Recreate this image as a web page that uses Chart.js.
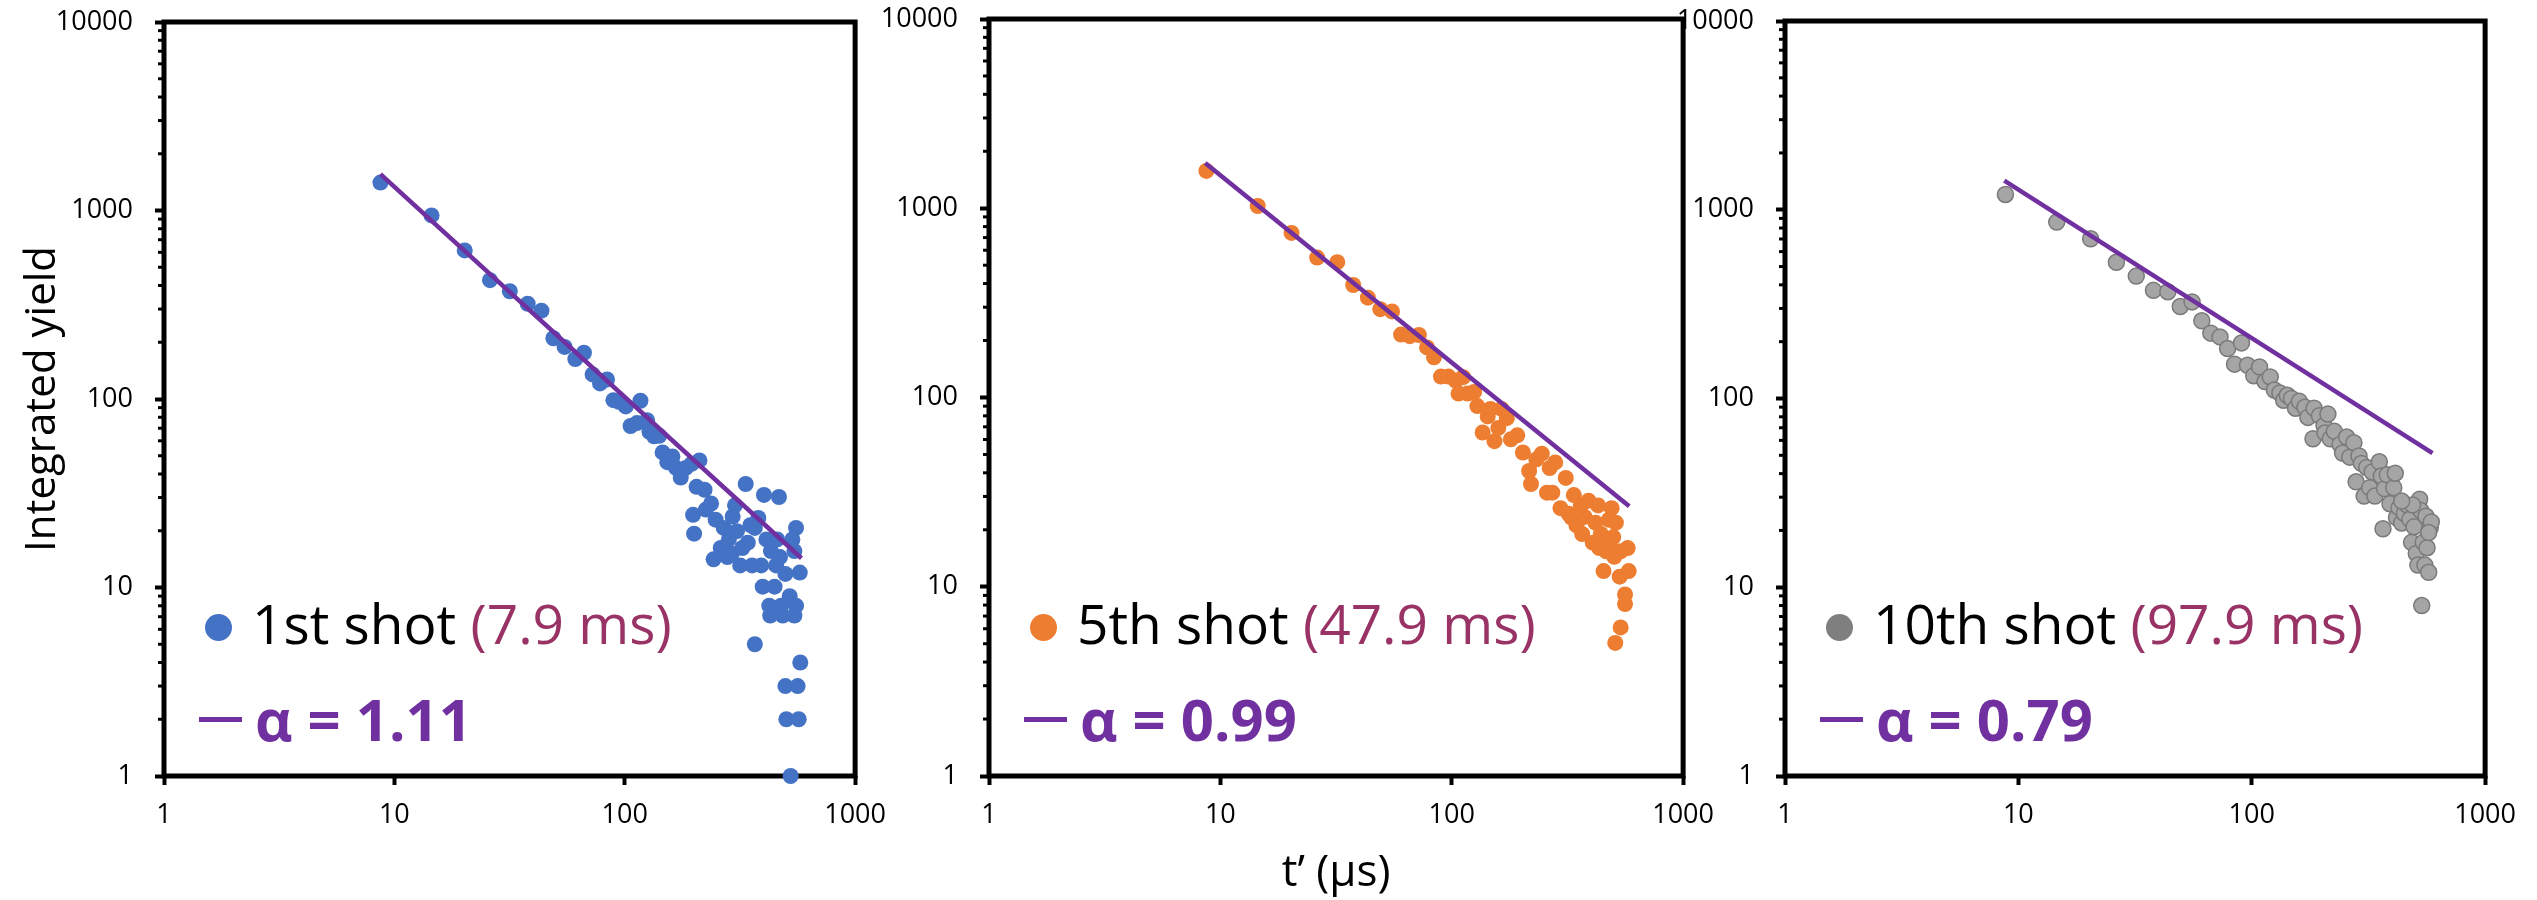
<!DOCTYPE html>
<html>
<head>
<meta charset="utf-8">
<script src="https://cdn.jsdelivr.net/npm/chart.js@4.4.1/dist/chart.umd.min.js"></script>
<style>
  body { margin: 0; background: #fff; width: 2537px; height: 900px; position: relative; overflow: hidden; font-family: "Open Sans", sans-serif; }
  .panel { position: absolute; top: 0; height: 900px; }
  .leg { position: absolute; white-space: nowrap; font-size: 55px; line-height: 55px; color: #000; }
  .alpha { font-weight: 700; color: #7030A0; font-size: 58px; line-height: 58px; }
  .dot { position: absolute; width: 27px; height: 27px; border-radius: 50%; }
  .bar { position: absolute; width: 43px; height: 5px; background: #7030A0; }
</style>
</head>
<body>
<script>
// axes
const xTicks = [1, 10, 100, 1000];
const yTicks = [1, 10, 100, 1000, 10000];
const minorSteps = [2, 3, 4, 5, 6, 7, 8, 9];

// legend text
const shotLabels = ['1st shot', '5th shot', '10th shot'];
const delayLabels = ['(7.9 ms)', '(47.9 ms)', '(97.9 ms)'];
const alphaLabels = ['1.11', '0.99', '0.79'];

// 1st shot
const shot1T = [8.7, 14.5, 20.2, 26.0, 31.7, 37.9, 43.5, 49.0, 54.8, 61.0,
  66.5, 72.5, 78.1, 83.8, 89.3, 94.3, 101, 117, 106, 113,
  125, 128, 134, 141, 146, 153, 161, 167, 175, 184,
  195, 211, 205, 222, 198, 225, 237, 248, 200, 243,
  261, 269, 283, 294, 301, 291, 324, 317, 335, 342,
  357, 367, 380, 391, 402, 397, 412, 424, 428, 447,
  454, 459, 472, 467, 477, 485, 367, 498, 503, 525,
  520, 534, 545, 554, 545, 563, 569, 578, 575, 498,
  554, 431, 351, 307, 279];
const shot1Y = [1406, 942, 614, 427, 373, 320, 294, 210, 189, 163,
  176, 135, 121, 127, 98.6, 96.6, 91.3, 97.9, 71.9, 74.5,
  77.2, 67.0, 63.4, 63.8, 52.1, 46.2, 49.6, 43.1, 38.3, 43.1,
  45.3, 47.2, 34.2, 33.0, 24.3, 25.9, 27.9, 22.9, 19.3, 14.1,
  16.2, 20.7, 18.0, 23.8, 27.3, 15.1, 16.2, 13.1, 35.4, 17.3,
  13.1, 20.7, 23.4, 13.1, 31.0, 10.1, 18.0, 8.0, 7.1, 10.1,
  13.1, 18.0, 14.5, 30.2, 8.0, 7.1, 5.0, 3.0, 2.0, 1.0,
  9.0, 18.0, 15.6, 8.0, 7.1, 3.0, 2.0, 4.0, 12.0, 11.8,
  20.7, 15.6, 21.4, 19.9, 14.5];
const fit1T = [8.7, 585];
const fit1Y = [1560, 14.3];

// 5th shot
const shot2T = [8.7, 14.5, 20.3, 26.2, 32.0, 37.5, 43.4, 49.1, 55.2, 60.4,
  65.9, 72.1, 78.2, 83.8, 89.8, 96.8, 104, 112, 107, 117,
  125, 129, 136, 143, 147, 153, 159, 164, 173, 180,
  192, 203, 216, 220, 232, 245, 258, 265, 280, 272,
  295, 311, 320, 337, 346, 361, 375, 390, 407, 418,
  429, 441, 453, 465, 478, 491, 499, 504, 509, 532,
  537, 561, 561, 576, 582, 512, 328, 366, 434, 478, 537];
const shot2Y = [1574, 1028, 741, 549, 519, 393, 337, 293, 285, 215,
  211, 214, 184, 163, 129, 129, 123, 128, 105, 105,
  107, 90.1, 65.3, 79.4, 87.0, 58.8, 69.1, 87.0, 77.8, 60.1,
  63.1, 51.2, 40.9, 34.9, 47.1, 50.5, 31.4, 42.4, 45.4, 31.4,
  26.0, 37.6, 24.3, 30.5, 21.1, 26.9, 23.4, 28.5, 17.1, 21.8,
  26.9, 19.0, 12.1, 15.4, 22.6, 26.0, 18.3, 14.4, 5.05, 11.3,
  6.1, 9.1, 8.1, 16.0, 12.1, 21.8, 23.3, 19.0, 16.0, 16.6, 15.4];
const fit2T = [8.6, 585];
const fit2Y = [1735, 26.6];

// 10th shot
const shot3T = [8.8, 14.6, 20.4, 26.3, 32.0, 37.9, 43.7, 49.4, 55.5, 61.1,
  66.8, 73.1, 78.8, 90.4, 84.4, 95.9, 102, 108, 114, 120,
  125, 132, 137, 142, 148, 154, 160, 169, 174, 183,
  185, 195, 204, 212, 206, 217, 226, 239, 245, 255,
  263, 274, 280, 288, 295, 303, 311, 320, 328, 337,
  352, 359, 365, 371, 381, 391, 406, 412, 417, 428,
  439, 451, 463, 476, 484, 496, 507, 515, 524, 530,
  535, 543, 552, 558, 564, 573, 582, 588, 573, 489, 439];
const shot3Y = [1205, 860, 702, 527, 445, 374, 368, 307, 325, 258,
  222, 212, 184, 197, 152, 150, 132, 147, 123, 130,
  111, 107, 97.9, 104, 100, 88.8, 96.6, 90.0, 79.4, 61.2,
  88.8, 81.1, 71.9, 82.7, 65.7, 61.2, 67.0, 57.1, 51.4, 62.5,
  48.9, 58.3, 36.2, 49.6, 45.3, 30.4, 43.1, 33.7, 40.8, 30.4,
  46.2, 38.8, 20.4, 33.3, 39.4, 27.7, 33.7, 40.2, 23.4, 26.4,
  21.9, 24.6, 27.3, 22.9, 17.3, 20.9, 15.1, 13.1, 29.3, 25.5,
  8.0, 17.3, 13.1, 23.8, 16.2, 12.0, 20.7, 22.2, 19.5, 27.3, 28.6];
const fit3T = [8.7, 595];
const fit3Y = [1425, 51.4];

// box + short minor ticks on the y axis
const framePlugin = {
  id: 'frame',
  beforeDatasetsDraw(chart) {
    const { ctx, chartArea: a } = chart;
    const ys = chart.scales.y;
    ctx.save();
    ctx.strokeStyle = '#000';
    ctx.lineWidth = 3;
    yTicks.slice(0, -1).forEach(d => minorSteps.forEach(m => {
      const py = ys.getPixelForValue(d * m);
      ctx.beginPath();
      ctx.moveTo(a.left - 6, py);
      ctx.lineTo(a.left, py);
      ctx.stroke();
    }));
    ctx.lineWidth = 5;
    ctx.strokeRect(a.left, a.top, a.right - a.left, a.bottom - a.top);
    ctx.restore();
  }
};

const tickFont = { family: 'Open Sans', size: 27 };

function pts(t, y) { return t.map((v, k) => ({ x: v, y: y[k] })); }

function makePanel(k, t, y, fitT, fitY, look) {
  const wrap = document.createElement('div');
  wrap.className = 'panel';
  wrap.style.left = look.left + 'px';
  wrap.style.width = (look.yw + look.plotW + 40) + 'px';
  const cv = document.createElement('canvas');
  wrap.appendChild(cv);
  document.body.appendChild(wrap);

  new Chart(cv, {
    type: 'scatter',
    data: {
      datasets: [
        { type: 'line', data: pts(fitT, fitY), borderColor: '#7030A0', borderWidth: 4.5,
          pointRadius: 0, fill: false, clip: false },
        { data: pts(t, y), pointRadius: 8, pointHoverRadius: 8,
          backgroundColor: look.fill, borderColor: look.edge, borderWidth: look.edgeW, clip: false }
      ]
    },
    options: {
      responsive: true,
      maintainAspectRatio: false,
      animation: false,
      events: [],
      layout: { padding: { left: 0, right: 40, top: look.top, bottom: 0 } },
      plugins: { legend: { display: false }, tooltip: { enabled: false } },
      scales: {
        x: {
          type: 'logarithmic', min: 1, max: 1000,
          afterBuildTicks: ax => { ax.ticks = xTicks.map(v => ({ value: v })); },
          afterFit: ax => { ax.height = 124; },
          border: { display: false },
          grid: { drawOnChartArea: false, drawTicks: true, tickLength: 9, tickWidth: 4, tickColor: '#000' },
          ticks: { autoSkip: false, maxRotation: 0, padding: 14, color: '#000', font: tickFont,
                   callback: v => String(v) },
          title: { display: k === 1, text: 't’ (μs)', color: '#000',
                   font: { family: 'Open Sans', size: 44 }, padding: { top: 0, bottom: 0 } }
        },
        y: {
          type: 'logarithmic', min: 1, max: 10000,
          afterBuildTicks: ax => { ax.ticks = yTicks.map(v => ({ value: v })); },
          afterFit: ax => { ax.width = look.yw; ax.paddingTop = 0; ax.paddingBottom = 0; },
          border: { display: false },
          grid: { drawOnChartArea: false, drawTicks: true, tickLength: 9, tickWidth: 4, tickColor: '#000' },
          ticks: { autoSkip: false, padding: 22, color: '#000', font: tickFont,
                   callback: v => String(v) },
          title: { display: k === 0, text: 'Integrated yield', color: '#000',
                   font: { family: 'Open Sans', size: 42 }, padding: { top: 18, bottom: 0 } }
        }
      }
    },
    plugins: [framePlugin]
  });

  // legend, inside the plot
  const L = look.left + look.yw;
  const dot = document.createElement('div');
  dot.className = 'dot';
  dot.style.left = (L + 41) + 'px';
  dot.style.top = '614px';
  dot.style.background = look.legendDot;
  document.body.appendChild(dot);

  const row1 = document.createElement('div');
  row1.className = 'leg';
  row1.style.left = (L + 88) + 'px';
  row1.style.top = '595px';
  row1.innerHTML = shotLabels[k] + ' <span style="color:#993366">' + delayLabels[k] + '</span>';
  document.body.appendChild(row1);

  const bar = document.createElement('div');
  bar.className = 'bar';
  bar.style.left = (L + 35) + 'px';
  bar.style.top = '717px';
  document.body.appendChild(bar);

  const row2 = document.createElement('div');
  row2.className = 'leg alpha';
  row2.style.left = (L + 91) + 'px';
  row2.style.top = '690px';
  row2.textContent = 'α = ' + alphaLabels[k];
  document.body.appendChild(row2);
}

makePanel(0, shot1T, shot1Y, fit1T, fit1Y,
  { left: 0, yw: 164, plotW: 696, top: 22, fill: '#4472C4', edge: '#4472C4', edgeW: 0, legendDot: '#4472C4' });
makePanel(1, shot2T, shot2Y, fit2T, fit2Y,
  { left: 869, yw: 120, plotW: 699, top: 19, fill: '#ED7D31', edge: '#ED7D31', edgeW: 0, legendDot: '#ED7D31' });
makePanel(2, shot3T, shot3Y, fit3T, fit3Y,
  { left: 1665, yw: 120, plotW: 705, top: 21, fill: '#A5A5A5', edge: '#7A7A7A', edgeW: 1.5, legendDot: '#7F7F7F' });
</script>
</body>
</html>
